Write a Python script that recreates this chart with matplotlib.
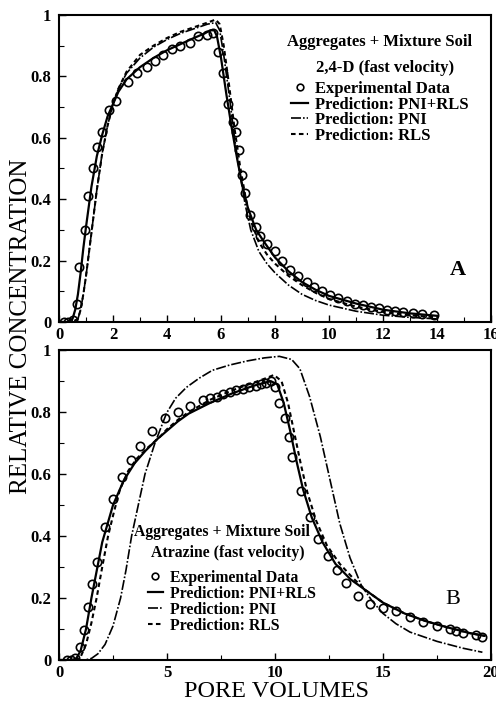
import matplotlib
matplotlib.use("Agg")
import matplotlib.pyplot as plt
from matplotlib.ticker import MultipleLocator, FuncFormatter

plt.rcParams['font.family'] = ['Liberation Serif', 'DejaVu Serif']

# ---------------- Panel A: 2,4-D ----------------
a_exp_x = [0.2, 0.35, 0.5, 0.65, 0.75, 0.96, 1.09, 1.27, 1.42, 1.60, 1.86, 2.1, 2.56, 2.88, 3.25,
           3.56, 3.85, 4.18, 4.48, 4.85, 5.15, 5.48, 5.7, 5.9, 6.07, 6.26, 6.43, 6.56, 6.67, 6.77,
           6.9, 7.07, 7.3, 7.44, 7.7, 8.0, 8.25, 8.56, 8.86, 9.17, 9.45, 9.75, 10.05, 10.35, 10.65,
           10.95, 11.25, 11.55, 11.85, 12.15, 12.45, 12.75, 13.1, 13.45, 13.9]
a_exp_y = [0.0, 0.0, 0.005, 0.06, 0.18, 0.30, 0.41, 0.50, 0.57, 0.62, 0.69, 0.72, 0.78, 0.81, 0.83,
           0.85, 0.87, 0.89, 0.90, 0.91, 0.93, 0.935, 0.94, 0.88, 0.81, 0.71, 0.65, 0.62, 0.56, 0.48,
           0.42, 0.35, 0.31, 0.28, 0.255, 0.23, 0.20, 0.17, 0.15, 0.13, 0.115, 0.10, 0.088, 0.078, 0.067,
           0.06, 0.055, 0.05, 0.045, 0.04, 0.037, 0.034, 0.03, 0.026, 0.022]

a_full_x = [0, 0.3, 0.5, 0.6, 0.7, 0.8, 0.9, 1.0, 1.2, 1.4, 1.6, 1.8, 2.0, 2.2, 2.5, 3.0, 3.5, 4.0,
            4.5, 5.0, 5.4, 5.6, 5.75, 5.85, 6.0, 6.2, 6.4, 6.6, 6.8, 7.0, 7.3, 7.6, 8.0, 8.5, 9.0,
            9.5, 10, 11, 12, 13, 14]
a_full_y = [0, 0, 0.01, 0.04, 0.09, 0.16, 0.24, 0.31, 0.44, 0.54, 0.61, 0.67, 0.71, 0.75, 0.79,
            0.83, 0.86, 0.885, 0.905, 0.925, 0.94, 0.95, 0.95, 0.93, 0.86, 0.74, 0.63, 0.53, 0.44,
            0.37, 0.30, 0.26, 0.21, 0.165, 0.13, 0.105, 0.085, 0.06, 0.04, 0.028, 0.02]

a_pni_x = [0, 0.5, 0.7, 0.8, 0.9, 1.0, 1.1, 1.2, 1.4, 1.6, 1.8, 2.0, 2.2, 2.5, 3.0, 3.5, 4.0, 4.5,
           5.0, 5.5, 5.8, 5.95, 6.1, 6.3, 6.5, 6.7, 6.9, 7.1, 7.4, 7.7, 8.0, 8.5, 9.0, 9.5, 10, 11,
           12, 13, 14]
a_pni_y = [0, 0, 0.01, 0.04, 0.09, 0.15, 0.22, 0.29, 0.43, 0.55, 0.64, 0.71, 0.76, 0.81, 0.86,
           0.895, 0.92, 0.94, 0.955, 0.97, 0.975, 0.95, 0.87, 0.74, 0.60, 0.48, 0.38, 0.30, 0.23,
           0.19, 0.16, 0.12, 0.09, 0.07, 0.055, 0.035, 0.022, 0.015, 0.01]

a_rls_x = [0, 0.5, 0.7, 0.8, 0.9, 1.0, 1.1, 1.2, 1.4, 1.6, 1.8, 2.0, 2.2, 2.5, 3.0, 3.5, 4.0, 4.5,
           5.0, 5.5, 5.8, 5.95, 6.1, 6.3, 6.5, 6.7, 6.9, 7.1, 7.4, 7.7, 8.0, 8.5, 9.0, 9.5, 10, 11,
           12, 13, 14]
a_rls_y = [0, 0, 0.01, 0.04, 0.09, 0.15, 0.22, 0.29, 0.43, 0.55, 0.64, 0.71, 0.76, 0.815, 0.87,
           0.90, 0.925, 0.945, 0.96, 0.975, 0.985, 0.97, 0.90, 0.77, 0.63, 0.51, 0.41, 0.33, 0.26,
           0.22, 0.19, 0.15, 0.12, 0.095, 0.075, 0.05, 0.033, 0.022, 0.015]

# ---------------- Panel B: Atrazine ----------------
b_exp_x = [0.35, 0.55, 0.75, 0.97, 1.17, 1.36, 1.54, 1.74, 2.13, 2.51, 2.93, 3.33, 3.75, 4.3, 4.9,
           5.5, 6.06, 6.67, 7.0, 7.3, 7.6, 7.9, 8.2, 8.5, 8.8, 9.1, 9.35, 9.6, 9.8, 10.0, 10.2, 10.45,
           10.65, 10.8, 11.2, 11.6, 12.0, 12.45, 12.87, 13.27, 13.85, 14.4, 15.0, 15.6, 16.25, 16.85,
           17.5, 18.1, 18.4, 18.7, 19.3, 19.6]
b_exp_y = [0, 0, 0.005, 0.043, 0.097, 0.17, 0.245, 0.316, 0.43, 0.52, 0.59, 0.645, 0.69, 0.74, 0.78,
           0.80, 0.82, 0.84, 0.845, 0.85, 0.86, 0.865, 0.87, 0.875, 0.88, 0.885, 0.89, 0.895, 0.90,
           0.88, 0.83, 0.78, 0.72, 0.655, 0.545, 0.46, 0.39, 0.335, 0.29, 0.25, 0.206, 0.18, 0.167,
           0.157, 0.14, 0.124, 0.11, 0.10, 0.095, 0.087, 0.08, 0.075]

b_full_x = [0, 0.6, 0.8, 1.0, 1.25, 1.5, 1.75, 2.0, 2.5, 3.0, 3.5, 4.0, 4.5, 5.0, 5.5, 6.0, 7.0, 8.0,
            9.0, 9.8, 10.1, 10.4, 10.7, 11.0, 11.3, 11.7, 12.2, 12.8, 13.5, 14.2, 15.0, 16.0, 17.0,
            18.0, 19.0, 19.7]
b_full_y = [0, 0, 0.005, 0.03, 0.1, 0.2, 0.29, 0.38, 0.5, 0.58, 0.635, 0.675, 0.71, 0.74, 0.77,
            0.795, 0.83, 0.86, 0.885, 0.90, 0.89, 0.83, 0.74, 0.64, 0.55, 0.46, 0.38, 0.31, 0.26,
            0.225, 0.185, 0.15, 0.125, 0.105, 0.087, 0.078]

b_pni_x = [0, 1.2, 1.5, 1.8, 2.13, 2.5, 2.85, 3.1, 3.36, 3.7, 3.98, 4.44, 4.98, 5.4, 5.9, 6.5, 7.1,
           7.9, 8.7, 9.5, 10.2, 10.77, 11.15, 11.6, 12.1, 12.55, 13.0, 13.47, 14.0, 14.5, 15.0,
           15.6, 16.25, 17.5, 18.7, 19.6]
b_pni_y = [0, 0, 0.005, 0.02, 0.05, 0.11, 0.2, 0.29, 0.4, 0.51, 0.6, 0.7, 0.797, 0.845, 0.88,
           0.91, 0.935, 0.952, 0.965, 0.975, 0.98, 0.97, 0.94, 0.85, 0.72, 0.58, 0.44, 0.33, 0.24,
           0.19, 0.15, 0.117, 0.09, 0.06, 0.038, 0.025]

b_rls_x = [0, 0.8, 1.0, 1.25, 1.5, 1.74, 2.0, 2.27, 2.55, 2.82, 3.2, 3.6, 4.1, 4.6, 5.0, 5.5, 6.0,
           7.0, 8.0, 9.0, 9.6, 9.95, 10.3, 10.6, 10.9, 11.2, 11.5, 11.9, 12.4, 13.0, 13.6, 14.2,
           15.0, 16.0, 17.0, 18.0, 19.0, 19.7]
b_rls_y = [0, 0, 0.01, 0.05, 0.12, 0.2, 0.3, 0.4, 0.48, 0.55, 0.61, 0.65, 0.685, 0.715, 0.745,
           0.775, 0.80, 0.84, 0.87, 0.895, 0.91, 0.92, 0.90, 0.83, 0.73, 0.63, 0.54, 0.45, 0.37,
           0.31, 0.265, 0.225, 0.185, 0.15, 0.125, 0.105, 0.087, 0.078]

legend_labels = ["Experimental Data", "Prediction: PNI+RLS", "Prediction: PNI", "Prediction: RLS"]

fig = plt.figure(figsize=(4.96, 7.01), dpi=100)
axA = fig.add_axes([0.119, 0.5407, 0.871, 0.438])
axB = fig.add_axes([0.119, 0.0585, 0.871, 0.442])

pni_style = (0, (6, 1.2, 1, 1.2))
rls_style = (0, (2.2, 1.6))


def draw(ax, ex, ey, fx, fy, px, py, rx, ry):
    h0, = ax.plot(ex, ey, 'o', ms=6, mfc='none', mec='black', mew=1.2, zorder=3)
    h1, = ax.plot(fx, fy, '-', color='black', lw=1.6)
    h2, = ax.plot(px, py, color='black', lw=1.2, linestyle=pni_style)
    h3, = ax.plot(rx, ry, color='black', lw=1.5, linestyle=rls_style)
    return [h0, h1, h2, h3]


def yfmt(v, pos):
    if abs(v) < 1e-9:
        return "0"
    if abs(v - 1) < 1e-9:
        return "1"
    return "%.1f" % v


hA = draw(axA, a_exp_x, a_exp_y, a_full_x, a_full_y, a_pni_x, a_pni_y, a_rls_x, a_rls_y)
hB = draw(axB, b_exp_x, b_exp_y, b_full_x, b_full_y, b_pni_x, b_pni_y, b_rls_x, b_rls_y)

axA.set_xlim(0, 16)
axA.set_ylim(0, 1)
axA.xaxis.set_major_locator(MultipleLocator(2))
axA.xaxis.set_minor_locator(MultipleLocator(1))
axB.set_xlim(0, 20)
axB.set_ylim(0, 1)
axB.xaxis.set_major_locator(MultipleLocator(5))
axB.xaxis.set_minor_locator(MultipleLocator(2.5))

for ax in (axA, axB):
    ax.yaxis.set_major_locator(MultipleLocator(0.2))
    ax.yaxis.set_minor_locator(MultipleLocator(0.1))
    ax.yaxis.set_major_formatter(FuncFormatter(yfmt))
    ax.tick_params(which='major', direction='in', length=5, width=1.0, labelsize=12)
    ax.tick_params(axis='y', which='major', pad=5.5)
    ax.tick_params(axis='x', which='major', pad=3.5)
    ax.tick_params(which='minor', direction='in', length=3.5, width=0.8)
    for lab in ax.get_xticklabels() + ax.get_yticklabels():
        lab.set_fontweight('bold')
    for sp in ax.spines.values():
        sp.set_linewidth(1.5)

legA = axA.legend(hA, legend_labels, loc='upper left', bbox_to_anchor=(0.538, 0.785),
                  frameon=False, borderpad=0, borderaxespad=0, handlelength=1.0,
                  handletextpad=0.4, labelspacing=-0.02, markerscale=0.8,
                  prop={'weight': 'bold', 'size': 12})
legB = axB.legend(hB, legend_labels, loc='upper left', bbox_to_anchor=(0.205, 0.292),
                  frameon=False, borderpad=0, borderaxespad=0, handlelength=1.0,
                  handletextpad=0.45, labelspacing=0.0, markerscale=0.8,
                  prop={'weight': 'bold', 'size': 11.3})

axA.text(0.743, 0.912, "Aggregates + Mixture Soil", transform=axA.transAxes, ha='center',
         va='center', fontsize=12, fontweight='bold')
axA.text(0.755, 0.827, "2,4-D (fast velocity)", transform=axA.transAxes, ha='center',
         va='center', fontsize=12, fontweight='bold')
axB.text(0.377, 0.413, "Aggregates + Mixture Soil", transform=axB.transAxes, ha='center',
         va='center', fontsize=11.3, fontweight='bold')
axB.text(0.39, 0.345, "Atrazine (fast velocity)", transform=axB.transAxes, ha='center',
         va='center', fontsize=11.3, fontweight='bold')

axA.text(0.924, 0.169, "A", transform=axA.transAxes, ha='center', va='center', fontsize=16,
         fontweight='bold')
axB.text(0.912, 0.194, "B", transform=axB.transAxes, ha='center', va='center', fontsize=16)

fig.text(0.042, 0.535, "RELATIVE CONCENTRATION", rotation=90, ha='center', va='center',
         fontsize=18)
fig.text(0.558, 0.006, "PORE VOLUMES", ha='center', va='baseline', fontsize=17.5)

fig.savefig("out.png", dpi=100)
